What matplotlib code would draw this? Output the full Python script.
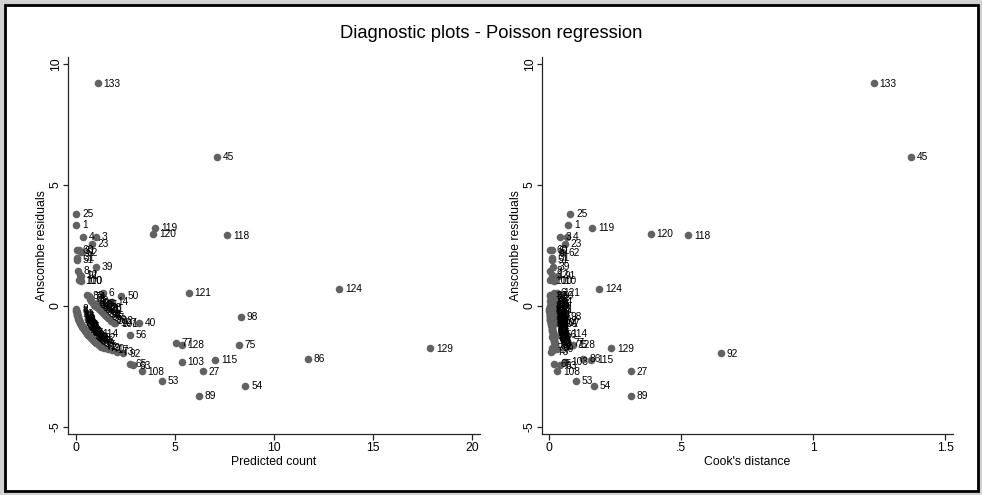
import matplotlib
matplotlib.use("Agg")
import matplotlib.pyplot as plt
from matplotlib.patches import Rectangle

plt.rcParams['font.family'] = ['Liberation Sans', 'DejaVu Sans']

# ----------------------------------
# Data
# ----------------------------------
# labelled outliers and visible points
obs_id = [133, 45, 25, 1, 119, 120, 118, 4, 3, 23,
          60, 61, 62, 31, 51, 39, 8, 12, 91, 100,
          110, 83, 6, 50, 14, 95, 35, 28, 81, 21,
          121, 124, 98, 107, 101, 40, 56, 114, 82, 77,
          128, 75, 129, 86, 115, 103, 27, 65, 63, 108,
          53, 54, 89, 92, 79, 17, 73, 70]
pred_count = [1.11, 7.12, 0.02, 0.02, 4.00, 3.89, 7.63, 0.35, 1.00, 0.80,
              0.05, 0.15, 0.25, 0.07, 0.05, 1.00, 0.10, 0.22, 0.28, 0.18,
              0.25, 0.55, 1.35, 2.30, 1.80, 1.10, 1.25, 1.45, 1.55, 1.40,
              5.70, 13.30, 8.33, 1.92, 1.98, 3.18, 2.73, 1.05, 1.15, 5.05,
              5.35, 8.23, 17.90, 11.70, 7.02, 5.35, 6.41, 2.73, 2.90, 3.33,
              4.34, 8.55, 6.20, 2.40, 1.40, 1.80, 2.05, 1.60]
anscombe = [9.21, 6.16, 3.80, 3.35, 3.22, 2.98, 2.93, 2.85, 2.85, 2.56,
            2.32, 2.30, 2.22, 2.00, 1.92, 1.61, 1.45, 1.30, 1.25, 1.07,
            1.03, 0.45, 0.54, 0.41, 0.17, 0.12, 0.05, -0.05, -0.12, -0.15,
            0.54, 0.70, -0.45, -0.70, -0.72, -0.70, -1.20, -1.12, -1.30, -1.53,
            -1.61, -1.61, -1.74, -2.19, -2.23, -2.31, -2.69, -2.40, -2.45, -2.69,
            -3.10, -3.29, -3.70, -1.95, -1.72, -1.82, -1.90, -1.78]
cooks_d = [1.23, 1.37, 0.080, 0.072, 0.163, 0.385, 0.527, 0.068, 0.040, 0.060,
           0.005, 0.012, 0.050, 0.012, 0.010, 0.015, 0.005, 0.010, 0.035, 0.002,
           0.020, 0.005, 0.020, 0.030, 0.025, 0.015, 0.012, 0.018, 0.022, 0.030,
           0.030, 0.190, 0.060, 0.030, 0.022, 0.032, 0.040, 0.060, 0.012, 0.070,
           0.090, 0.080, 0.235, 0.130, 0.160, 0.060, 0.310, 0.020, 0.040, 0.030,
           0.100, 0.170, 0.310, 0.650, 0.010, 0.015, 0.008, 0.030]

# dense band of zero counts near the origin
band_id = [2, 5, 7, 9, 10, 11, 13, 15, 16, 18,
           19, 20, 22, 24, 26, 29, 30, 32, 33, 34,
           36, 37, 38, 41, 42, 43, 44, 46, 47, 48,
           49, 52, 55, 57, 58, 59, 64, 66, 67, 68,
           69, 71, 72]
band_pred = [0.01, 0.02, 0.03, 0.04, 0.05, 0.06, 0.07, 0.08, 0.10, 0.11,
             0.12, 0.14, 0.15, 0.17, 0.19, 0.21, 0.23, 0.25, 0.27, 0.29,
             0.31, 0.33, 0.36, 0.39, 0.42, 0.45, 0.48, 0.51, 0.55, 0.58,
             0.62, 0.66, 0.70, 0.74, 0.78, 0.82, 0.87, 0.92, 0.97, 1.03,
             1.10, 1.18, 1.26]
band_resid = [-0.12, -0.20, -0.25, -0.29, -0.33, -0.36, -0.39, -0.42, -0.47, -0.50,
              -0.52, -0.56, -0.58, -0.62, -0.65, -0.69, -0.72, -0.75, -0.78, -0.81,
              -0.84, -0.86, -0.90, -0.94, -0.97, -1.01, -1.04, -1.07, -1.11, -1.14,
              -1.18, -1.22, -1.25, -1.29, -1.32, -1.36, -1.40, -1.44, -1.48, -1.52,
              -1.57, -1.63, -1.68]
band_cook = [0.001, 0.001, 0.002, 0.002, 0.002, 0.003, 0.003, 0.003, 0.004, 0.004,
             0.004, 0.005, 0.005, 0.006, 0.006, 0.007, 0.007, 0.008, 0.008, 0.009,
             0.009, 0.010, 0.010, 0.011, 0.011, 0.012, 0.012, 0.013, 0.013, 0.014,
             0.014, 0.015, 0.016, 0.016, 0.017, 0.018, 0.018, 0.019, 0.020, 0.021,
             0.022, 0.023, 0.024]

# counts of one, just under the labels mass
ones_id = [74, 76, 78, 80, 84, 85, 87, 88, 90, 93, 94, 96, 97, 99, 102]
ones_pred = [0.65, 0.72, 0.78, 0.85, 0.92, 0.98, 1.05, 1.15, 1.25, 1.35,
             1.45, 1.50, 1.60, 1.70, 1.75]
ones_resid = [0.40, 0.30, 0.22, 0.14, 0.06, 0.01, -0.05, -0.13, -0.22, -0.30,
              -0.37, -0.42, -0.48, -0.55, -0.60]
ones_cook = [0.004, 0.006, 0.003, 0.008, 0.010, 0.002, 0.012, 0.005, 0.014, 0.007,
             0.016, 0.009, 0.018, 0.011, 0.020]

all_id = band_id + ones_id + obs_id
all_pred = band_pred + ones_pred + pred_count
all_resid = band_resid + ones_resid + anscombe
all_cook = band_cook + ones_cook + cooks_d

MARKER = '#626262'
W, H = 982, 495


def draw_panel(ax, xs, ys, labels, xlim, xticks, xticklabels, xlabel):
    ax.scatter(xs, ys, s=30, color=MARKER, linewidths=0, zorder=3, clip_on=False)
    for x, y, lab in zip(xs, ys, labels):
        ax.annotate(str(lab), (x, y), xytext=(4.2, -0.3), textcoords='offset points',
                    ha='left', va='center', fontsize=7.3, color='black', zorder=4)
    ax.set_xlim(*xlim)
    ax.set_ylim(-5.29, 10.29)
    ax.set_xticks(xticks)
    ax.set_xticklabels(xticklabels)
    ax.set_yticks([-5, 0, 5, 10])
    ax.set_yticklabels(['-5', '0', '5', '10'], rotation=90, va='center')
    ax.set_xlabel(xlabel, fontsize=8.8, labelpad=1.5)
    ax.set_ylabel('Anscombe residuals', fontsize=8.8, labelpad=1.5)
    for side in ('top', 'right'):
        ax.spines[side].set_visible(False)
    for side in ('left', 'bottom'):
        ax.spines[side].set_color('#262626')
        ax.spines[side].set_linewidth(0.9)
    ax.tick_params(axis='x', direction='out', length=4, width=0.9, color='#262626',
                   labelsize=8.8, pad=2)
    ax.tick_params(axis='y', direction='out', length=3.6, width=0.9, color='#262626',
                   labelsize=8.8, pad=0.8)
    ax.patch.set_alpha(0)


fig = plt.figure(figsize=(W / 100, H / 100), dpi=100, facecolor='#d2d2d2')
fig.patches.append(Rectangle((4.5 / W, 4.5 / H), 973 / W, 486 / H,
                             transform=fig.transFigure, facecolor='white',
                             edgecolor='black', linewidth=2.0, zorder=-10))

ax1 = fig.add_axes([68 / W, 61 / H, 412 / W, 377 / H])
ax2 = fig.add_axes([542 / W, 61 / H, 411 / W, 377 / H])

draw_panel(ax1, all_pred, all_resid, all_id, (-0.4, 20.4),
           [0, 5, 10, 15, 20], ['0', '5', '10', '15', '20'], 'Predicted count')
draw_panel(ax2, all_cook, all_resid, all_id, (-0.027, 1.53),
           [0, 0.5, 1, 1.5], ['0', '.5', '1', '1.5'], "Cook's distance")

fig.text(0.5, (H - 33) / H, 'Diagnostic plots - Poisson regression',
         ha='center', va='center', fontsize=13.2)

fig.savefig('out.png', dpi=100, facecolor=fig.get_facecolor())
